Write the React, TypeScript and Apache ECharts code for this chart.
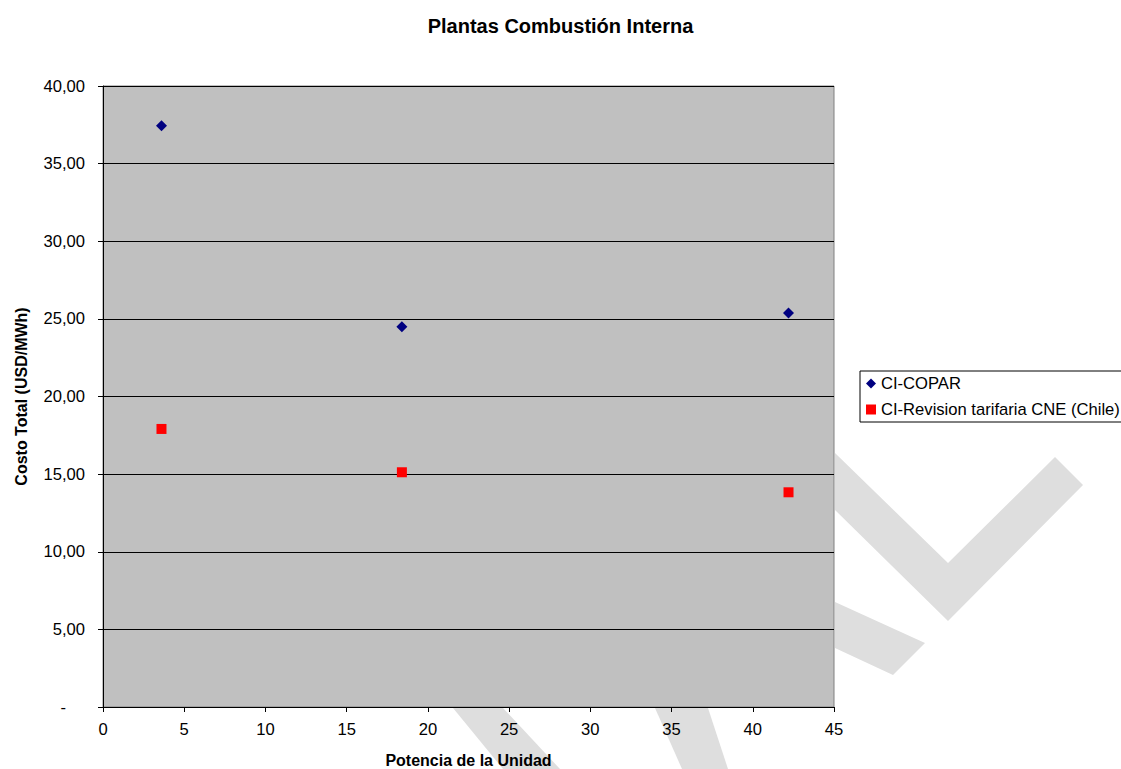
import React, { useEffect, useRef } from "react";
import * as echarts from "echarts";

const titleText = "Plantas Combustión Interna";
const xAxisName = "Potencia de la Unidad";
const yAxisName = "Costo Total (USD/MWh)";

const seriesNames = ["CI-COPAR", "CI-Revision tarifaria CNE (Chile)"];
const potencia = [3.6, 18.4, 42.2];
const copar = [37.44, 24.5, 25.38];
const cne = [17.91, 15.12, 13.83];

const xMin = 0;
const xMax = 45;
const xInterval = 5;
const yMin = 0;
const yMax = 40;
const yInterval = 5;

const watermarkShapes: number[][][] = [
  [[835, 453], [948, 563], [1055, 457], [1083, 485], [948, 621], [835, 510]],
  [[835, 602], [925, 643], [893, 675], [835, 648]],
  [[655, 708], [708, 708], [728, 769], [682, 769]],
  [[453, 708], [503, 708], [560, 769], [503, 769]],
];

export default function App() {
  const ref = useRef<HTMLDivElement>(null);

  useEffect(() => {
    if (!ref.current) return;
    const chart = echarts.init(ref.current, null, { renderer: "svg" });
    const font = "'Liberation Sans', Arial, sans-serif";

    const option: any = {
      animation: false,
      backgroundColor: "#ffffff",
      textStyle: { fontFamily: font },
      title: {
        text: titleText,
        left: "center",
        top: 11,
        textStyle: { fontFamily: font, fontSize: 20, fontWeight: "bold", color: "#000" },
      },
      graphic: watermarkShapes.map((pts) => ({
        type: "polygon",
        z: -10,
        silent: true,
        shape: { points: pts },
        style: { fill: "#dedede" },
      })),
      legend: {
        orient: "vertical",
        left: 860,
        top: 371,
        padding: [4, 10, 4, 6],
        itemGap: 9,
        itemWidth: 10,
        itemHeight: 10,
        borderColor: "#000",
        borderWidth: 1,
        backgroundColor: "#fff",
        textStyle: { fontFamily: font, fontSize: 16.6, color: "#000" },
        data: [
          { name: seriesNames[0], icon: "diamond" },
          { name: seriesNames[1], icon: "rect" },
        ],
      },
      grid: {
        left: 103,
        top: 86,
        width: 731,
        height: 621,
        outerBoundsMode: "none",
        containLabel: false,
        show: true,
        backgroundColor: "#c0c0c0",
        borderColor: "#808080",
        borderWidth: 1,
      },
      xAxis: {
        type: "value",
        min: xMin,
        max: xMax,
        interval: xInterval,
        name: xAxisName,
        nameLocation: "middle",
        nameGap: 45,
        nameTextStyle: { fontFamily: font, fontSize: 16, fontWeight: "bold", color: "#000" },
        axisLine: { show: true, onZero: false, lineStyle: { color: "#000", width: 1 } },
        axisTick: { show: true, inside: false, length: 5, lineStyle: { color: "#000" } },
        axisLabel: { margin: 14, fontFamily: font, fontSize: 16.6, color: "#000" },
        splitLine: { show: false },
      },
      yAxis: {
        type: "value",
        min: yMin,
        max: yMax,
        interval: yInterval,
        name: yAxisName,
        nameLocation: "middle",
        nameGap: 74,
        nameTextStyle: { fontFamily: font, fontSize: 16, fontWeight: "bold", color: "#000" },
        axisLine: { show: true, onZero: false, lineStyle: { color: "#000", width: 1 } },
        axisTick: { show: true, inside: false, length: 5, lineStyle: { color: "#000" } },
        axisLabel: {
          margin: 18,
          fontFamily: font,
          fontSize: 16.6,
          color: "#000",
          formatter: (v: number) =>
            v === 0 ? "{d|-}" : v.toFixed(2).replace(".", ","),
          rich: { d: { fontFamily: font, fontSize: 16.6, color: "#000", padding: [0, 19, 0, 0] } },
        },
        splitLine: { show: true, lineStyle: { color: "#000", width: 1 } },
      },
      series: [
        {
          name: seriesNames[0],
          type: "scatter",
          symbol: "diamond",
          symbolSize: 11,
          itemStyle: { color: "#000080", opacity: 1 },
          data: potencia.map((x, i) => [x, copar[i]]),
        },
        {
          name: seriesNames[1],
          type: "scatter",
          symbol: "rect",
          symbolSize: 10,
          itemStyle: { color: "#ff0000", opacity: 1 },
          data: potencia.map((x, i) => [x, cne[i]]),
        },
      ],
    };

    chart.setOption(option);
    return () => chart.dispose();
  }, []);

  return (
    <div
      ref={ref}
      style={{ position: "absolute", left: 0, top: 0, width: 1121, height: 769 }}
    />
  );
}
